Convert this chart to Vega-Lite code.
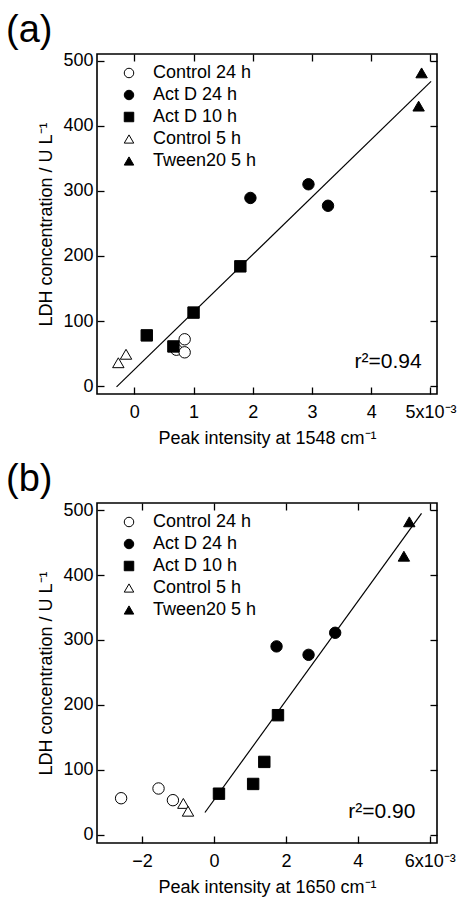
{
  "$schema": "https://vega.github.io/schema/vega-lite/v6.json",
  "background": "white",
  "padding": {"left": 5, "top": 10, "right": 5, "bottom": 5},
  "datasets": {
    "ptsA": [
      {"group": "Control 24 h", "x": 0.71, "y": 56},
      {"group": "Control 24 h", "x": 0.85, "y": 72},
      {"group": "Control 24 h", "x": 0.85, "y": 52},
      {"group": "Act D 24 h", "x": 1.96, "y": 289},
      {"group": "Act D 24 h", "x": 2.94, "y": 310},
      {"group": "Act D 24 h", "x": 3.27, "y": 277},
      {"group": "Act D 10 h", "x": 0.21, "y": 78},
      {"group": "Act D 10 h", "x": 0.66, "y": 61},
      {"group": "Act D 10 h", "x": 1.0, "y": 113},
      {"group": "Act D 10 h", "x": 1.79, "y": 184},
      {"group": "Control 5 h", "x": -0.27, "y": 36},
      {"group": "Control 5 h", "x": -0.14, "y": 49},
      {"group": "Tween20 5 h", "x": 4.85, "y": 481},
      {"group": "Tween20 5 h", "x": 4.8, "y": 430}
    ],
    "lineA": [
      {"x": -0.3, "y": -1},
      {"x": 5.01, "y": 468}
    ],
    "ptsB": [
      {"group": "Control 24 h", "x": -2.58, "y": 56},
      {"group": "Control 24 h", "x": -1.54, "y": 71},
      {"group": "Control 24 h", "x": -1.14, "y": 53},
      {"group": "Act D 24 h", "x": 1.74, "y": 290},
      {"group": "Act D 24 h", "x": 2.63, "y": 277},
      {"group": "Act D 24 h", "x": 3.37, "y": 311},
      {"group": "Act D 10 h", "x": 0.14, "y": 63},
      {"group": "Act D 10 h", "x": 1.09, "y": 78},
      {"group": "Act D 10 h", "x": 1.4, "y": 112},
      {"group": "Act D 10 h", "x": 1.78, "y": 184},
      {"group": "Control 5 h", "x": -0.85, "y": 48},
      {"group": "Control 5 h", "x": -0.72, "y": 36},
      {"group": "Tween20 5 h", "x": 5.43, "y": 482},
      {"group": "Tween20 5 h", "x": 5.28, "y": 429}
    ],
    "lineB": [
      {"x": -0.25, "y": 34},
      {"x": 5.77, "y": 495}
    ]
  },
  "config": {
    "font": "Liberation Sans",
    "view": {"stroke": "black", "strokeWidth": 1.6},
    "axis": {
      "domain": false,
      "grid": false,
      "ticks": true,
      "tickColor": "black",
      "tickWidth": 1.3,
      "tickSize": -7,
      "labelFont": "Liberation Sans",
      "labelFontSize": 18,
      "labelColor": "black",
      "titleFont": "Liberation Sans",
      "titleFontSize": 18,
      "titleFontWeight": "normal",
      "titleColor": "black"
    },
    "legend": {
      "title": null,
      "orient": "none",
      "legendX": 23,
      "legendY": 10,
      "padding": 0,
      "labelFont": "Liberation Sans",
      "labelFontSize": 18,
      "labelColor": "black",
      "labelOffset": 15,
      "symbolSize": 90,
      "symbolStrokeColor": "black",
      "symbolStrokeWidth": 1,
      "rowPadding": 4
    },
    "title": {"font": "Liberation Sans", "fontSize": 38, "fontWeight": "normal", "color": "black", "anchor": "start", "frame": "group"}
  },
  "resolve": {"scale": {"fill": "independent", "shape": "independent", "stroke": "independent"}, "legend": {"fill": "independent", "shape": "independent", "stroke": "independent"}},
  "spacing": 12,
  "vconcat": [
    {
      "width": 340,
      "height": 340,
      "title": {"text": "(a)", "dx": -91, "offset": 2},
      "resolve": {"axis": {"x": "independent", "y": "independent"}},
      "layer": [
        {
          "data": {"name": "lineA"},
          "mark": {"type": "line", "color": "black", "strokeWidth": 1.2},
          "encoding": {
            "x": {"field": "x", "type": "quantitative", "scale": {"domain": [-0.63, 5.11], "nice": false, "zero": false}, "axis": {"orient": "top", "labels": false, "title": null, "values": [0, 1, 2, 3, 4, 5]}},
            "y": {"field": "y", "type": "quantitative", "scale": {"domain": [-12, 510], "nice": false, "zero": false}, "axis": {"orient": "right", "labels": false, "title": null, "values": [0, 100, 200, 300, 400, 500]}}
          }
        },
        {
          "data": {"name": "ptsA"},
          "mark": {"type": "point", "filled": true, "strokeWidth": 1, "size": 130, "opacity": 1},
          "encoding": {
            "x": {"field": "x", "type": "quantitative", "axis": {"orient": "bottom", "title": "Peak intensity at 1548 cm⁻¹", "values": [0, 1, 2, 3, 4, 5], "labelExpr": "datum.value == 5 ? '5x10⁻³' : datum.label", "labelPadding": 16, "titlePadding": 8}},
            "y": {"field": "y", "type": "quantitative", "axis": {"orient": "left", "title": "LDH concentration / U L⁻¹", "values": [0, 100, 200, 300, 400, 500], "labelPadding": 11, "titlePadding": 7}},
            "fill": {"field": "group", "type": "nominal", "scale": {"domain": ["Control 24 h", "Act D 24 h", "Act D 10 h", "Control 5 h", "Tween20 5 h"], "range": ["white", "black", "black", "white", "black"]}},
            "stroke": {"field": "group", "type": "nominal", "scale": {"domain": ["Control 24 h", "Act D 24 h", "Act D 10 h", "Control 5 h", "Tween20 5 h"], "range": ["black", "black", "black", "black", "black"]}},
            "shape": {"field": "group", "type": "nominal", "scale": {"domain": ["Control 24 h", "Act D 24 h", "Act D 10 h", "Control 5 h", "Tween20 5 h"], "range": ["circle", "circle", "square", "triangle-up", "triangle-up"]}}
          }
        },
        {
          "data": {"values": [{"label": "r²=0.94"}]},
          "mark": {"type": "text", "fontSize": 21, "align": "right", "baseline": "alphabetic", "color": "black"},
          "encoding": {
            "text": {"field": "label"},
            "x": {"datum": 4.85, "type": "quantitative", "axis": null},
            "y": {"datum": 28, "type": "quantitative", "axis": null}
          }
        }
      ]
    },
    {
      "width": 340,
      "height": 340,
      "title": {"text": "(b)", "dx": -91, "offset": 2},
      "resolve": {"axis": {"x": "independent", "y": "independent"}},
      "layer": [
        {
          "data": {"name": "lineB"},
          "mark": {"type": "line", "color": "black", "strokeWidth": 1.2},
          "encoding": {
            "x": {"field": "x", "type": "quantitative", "scale": {"domain": [-3.25, 6.2], "nice": false, "zero": false}, "axis": {"orient": "top", "labels": false, "title": null, "values": [-2, 0, 2, 4, 6]}},
            "y": {"field": "y", "type": "quantitative", "scale": {"domain": [-13, 511], "nice": false, "zero": false}, "axis": {"orient": "right", "labels": false, "title": null, "values": [0, 100, 200, 300, 400, 500]}}
          }
        },
        {
          "data": {"name": "ptsB"},
          "mark": {"type": "point", "filled": true, "strokeWidth": 1, "size": 130, "opacity": 1},
          "encoding": {
            "x": {"field": "x", "type": "quantitative", "axis": {"orient": "bottom", "title": "Peak intensity at 1650 cm⁻¹", "values": [-2, 0, 2, 4, 6], "labelExpr": "datum.value == 6 ? '6x10⁻³' : datum.label", "labelPadding": 16, "titlePadding": 8}},
            "y": {"field": "y", "type": "quantitative", "axis": {"orient": "left", "title": "LDH concentration / U L⁻¹", "values": [0, 100, 200, 300, 400, 500], "labelPadding": 11, "titlePadding": 7}},
            "fill": {"field": "group", "type": "nominal", "scale": {"domain": ["Control 24 h", "Act D 24 h", "Act D 10 h", "Control 5 h", "Tween20 5 h"], "range": ["white", "black", "black", "white", "black"]}},
            "stroke": {"field": "group", "type": "nominal", "scale": {"domain": ["Control 24 h", "Act D 24 h", "Act D 10 h", "Control 5 h", "Tween20 5 h"], "range": ["black", "black", "black", "black", "black"]}},
            "shape": {"field": "group", "type": "nominal", "scale": {"domain": ["Control 24 h", "Act D 24 h", "Act D 10 h", "Control 5 h", "Tween20 5 h"], "range": ["circle", "circle", "square", "triangle-up", "triangle-up"]}}
          }
        },
        {
          "data": {"values": [{"label": "r²=0.90"}]},
          "mark": {"type": "text", "fontSize": 21, "align": "right", "baseline": "alphabetic", "color": "black"},
          "encoding": {
            "text": {"field": "label"},
            "x": {"datum": 5.6, "type": "quantitative", "axis": null},
            "y": {"datum": 26, "type": "quantitative", "axis": null}
          }
        }
      ]
    }
  ]
}
